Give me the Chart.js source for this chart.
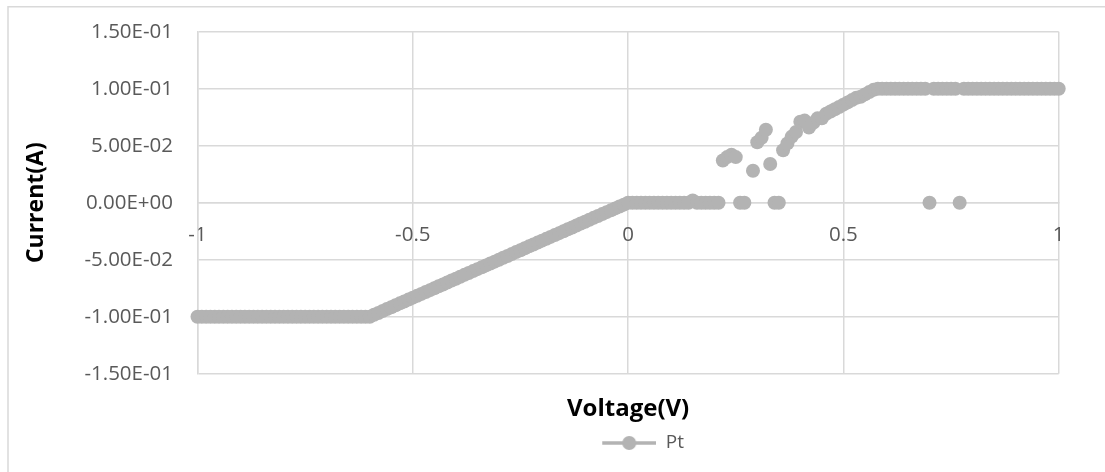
<!DOCTYPE html>
<html>
<head>
<meta charset="utf-8">
<title>Pt I-V sweep</title>
<script src="https://cdn.jsdelivr.net/npm/chart.js@4.4.1/dist/chart.umd.min.js"></script>
<style>
  html, body { margin: 0; padding: 0; background: #fff; }
  #ivChart { display: block; }
</style>
</head>
<body>
<canvas id="ivChart" width="1105" height="472"></canvas>
<script>
// Voltage sweep (V); null entries break the line between stray readings
const voltage = [
  -1.00, -0.99, -0.98, -0.97, -0.96, -0.95, -0.94, -0.93, -0.92, -0.91,
  -0.90, -0.89, -0.88, -0.87, -0.86, -0.85, -0.84, -0.83, -0.82, -0.81,
  -0.80, -0.79, -0.78, -0.77, -0.76, -0.75, -0.74, -0.73, -0.72, -0.71,
  -0.70, -0.69, -0.68, -0.67, -0.66, -0.65, -0.64, -0.63, -0.62, -0.61,
  -0.60, -0.59, -0.58, -0.57, -0.56, -0.55, -0.54, -0.53, -0.52, -0.51,
  -0.50, -0.49, -0.48, -0.47, -0.46, -0.45, -0.44, -0.43, -0.42, -0.41,
  -0.40, -0.39, -0.38, -0.37, -0.36, -0.35, -0.34, -0.33, -0.32, -0.31,
  -0.30, -0.29, -0.28, -0.27, -0.26, -0.25, -0.24, -0.23, -0.22, -0.21,
  -0.20, -0.19, -0.18, -0.17, -0.16, -0.15, -0.14, -0.13, -0.12, -0.11,
  -0.10, -0.09, -0.08, -0.07, -0.06, -0.05, -0.04, -0.03, -0.02, -0.01,
  0.00, 0.01, 0.02, 0.03, 0.04, 0.05, 0.06, 0.07, 0.08, 0.09,
  0.10, 0.11, 0.12, 0.13, 0.14, 0.15, 0.16, 0.17, 0.18, 0.19,
  0.20, 0.21,
  null, 0.22, 0.23, 0.24, 0.25, null, 0.26, 0.27, null, 0.29, null,
  0.30, 0.31, 0.32, null, 0.33, null, 0.34, 0.35, null,
  0.36, 0.37, 0.38, 0.39, 0.40, 0.41, 0.42, 0.43, 0.44, 0.45,
  0.46, 0.47, 0.48, 0.49, 0.50, 0.51, 0.52, 0.53, 0.54, 0.55,
  0.56, 0.57, 0.58, 0.59, 0.60, 0.61, 0.62, 0.63, 0.64, 0.65,
  0.66, 0.67, 0.68, 0.69,
  null, 0.70, null,
  0.71, 0.72, 0.73, 0.74, 0.75, 0.76,
  null, 0.77, null,
  0.78, 0.79, 0.80, 0.81, 0.82, 0.83, 0.84, 0.85, 0.86, 0.87,
  0.88, 0.89, 0.90, 0.91, 0.92, 0.93, 0.94, 0.95, 0.96, 0.97,
  0.98, 0.99, 1.00
];

// Measured current (A), same order as voltage
const current = [
  -0.1, -0.1, -0.1, -0.1, -0.1, -0.1, -0.1, -0.1, -0.1, -0.1,
  -0.1, -0.1, -0.1, -0.1, -0.1, -0.1, -0.1, -0.1, -0.1, -0.1,
  -0.1, -0.1, -0.1, -0.1, -0.1, -0.1, -0.1, -0.1, -0.1, -0.1,
  -0.1, -0.1, -0.1, -0.1, -0.1, -0.1, -0.1, -0.1, -0.1, -0.1,
  -0.1, -0.0983, -0.0967, -0.095, -0.0933, -0.0917, -0.09, -0.0883, -0.0867, -0.085,
  -0.0833, -0.0817, -0.08, -0.0783, -0.0767, -0.075, -0.0733, -0.0717, -0.07, -0.0683,
  -0.0667, -0.065, -0.0633, -0.0617, -0.06, -0.0583, -0.0567, -0.055, -0.0533, -0.0517,
  -0.05, -0.0483, -0.0467, -0.045, -0.0433, -0.0417, -0.04, -0.0383, -0.0367, -0.035,
  -0.0333, -0.0317, -0.03, -0.0283, -0.0267, -0.025, -0.0233, -0.0217, -0.02, -0.0183,
  -0.0167, -0.015, -0.0133, -0.0117, -0.01, -0.0083, -0.0067, -0.005, -0.0033, -0.0017,
  0, 0, 0, 0, 0, 0, 0, 0, 0, 0,
  0, 0, 0, 0, 0, 0.002, 0, 0, 0, 0,
  0, 0,
  null, 0.037, 0.040, 0.042, 0.040, null, 0, 0, null, 0.028, null,
  0.053, 0.057, 0.064, null, 0.034, null, 0, 0, null,
  0.046, 0.052, 0.058, 0.062, 0.071, 0.072, 0.066, 0.070, 0.074, 0.074,
  0.078, 0.080, 0.082, 0.084, 0.086, 0.088, 0.090, 0.092, 0.093, 0.095,
  0.097, 0.099, 0.100, 0.1, 0.1, 0.1, 0.1, 0.1, 0.1, 0.1,
  0.1, 0.1, 0.1, 0.1,
  null, 0, null,
  0.1, 0.1, 0.1, 0.1, 0.1, 0.1,
  null, 0, null,
  0.1, 0.1, 0.1, 0.1, 0.1, 0.1, 0.1, 0.1, 0.1, 0.1,
  0.1, 0.1, 0.1, 0.1, 0.1, 0.1, 0.1, 0.1, 0.1, 0.1,
  0.1, 0.1, 0.1
];

const seriesName = 'Pt';
const voltageTicks = [-1, -0.5, 0, 0.5, 1];
const currentTicks = [-0.15, -0.1, -0.05, 0, 0.05, 0.1, 0.15];

const GREY = '#b3b3b3';
const GRID = '#d9d9d9';
const LABEL = '#595959';
const FONT = "'Open Sans', 'Liberation Sans', sans-serif";

// Excel-style scientific label, e.g. 1.50E-01
function sciLabel(v) {
    if (Math.abs(v) < 1e-12) return '0.00E+00';
    const parts = v.toExponential(2).split('e');
    const exp = parseInt(parts[1], 10);
    return parts[0] + 'E' + (exp < 0 ? '-' : '+') + String(Math.abs(exp)).padStart(2, '0');
}

// Legend symbol: short line with a marker in the middle
function makeLegendSymbol() {
    const c = document.createElement('canvas');
    c.width = 84;
    c.height = 20;
    const g = c.getContext('2d');
    g.strokeStyle = GREY;
    g.lineWidth = 3.5;
    g.beginPath();
    g.moveTo(30, 10);
    g.lineTo(84, 10);
    g.stroke();
    g.fillStyle = GREY;
    g.beginPath();
    g.arc(57, 10, 7, 0, Math.PI * 2);
    g.fill();
    return c;
}

// White background and the thin outer frame
const chartFrame = {
    id: 'chartFrame',
    beforeDraw(chart) {
        const c = chart.ctx;
        c.save();
        c.fillStyle = '#fff';
        c.fillRect(0, 0, chart.width, chart.height);
        c.strokeStyle = GRID;
        c.lineWidth = 1.5;
        c.strokeRect(8, 6.75, chart.width + 20, chart.height + 20);
        c.restore();
    }
};

const points = voltage.map((v, i) => ({ x: v, y: current[i] }));

const ctx = document.getElementById('ivChart').getContext('2d');
const ivChart = new Chart(ctx, {
    type: 'scatter',
    data: {
        datasets: [{
            label: seriesName,
            data: points,
            showLine: true,
            spanGaps: false,
            borderColor: GREY,
            backgroundColor: GREY,
            borderWidth: 3.5,
            pointRadius: 7,
            pointBorderWidth: 0,
            pointHoverRadius: 7,
            clip: false
        }]
    },
    options: {
        responsive: false,
        animation: false,
        events: [],
        layout: { padding: { left: 0, top: 31.7, right: 46.3, bottom: 9.5 } },
        scales: {
            x: {
                type: 'linear',
                position: { y: 0 },
                min: -1,
                max: 1,
                afterBuildTicks: (scale) => { scale.ticks = voltageTicks.map(v => ({ value: v })); },
                grid: { color: GRID, lineWidth: 1.5, drawTicks: false },
                border: { color: GRID, width: 1.5 },
                ticks: {
                    padding: 20,
                    color: LABEL,
                    font: { family: FONT, size: 20.5 },
                    maxRotation: 0,
                    callback: (v) => String(v)
                }
            },
            y: {
                type: 'linear',
                position: 'left',
                min: -0.15,
                max: 0.15,
                afterBuildTicks: (scale) => { scale.ticks = currentTicks.map(v => ({ value: v })); },
                afterFit: (scale) => { scale.width = 197.5; },
                // invisible tick marks keep the labels clear of the axis
                grid: { color: GRID, lineWidth: 1.5, drawTicks: true, tickLength: 24.5, tickColor: 'rgba(0,0,0,0)' },
                border: { color: GRID, width: 1.5 },
                ticks: {
                    padding: 0,
                    color: LABEL,
                    font: { family: FONT, size: 20.5 },
                    callback: (v) => sciLabel(v)
                },
                title: {
                    display: true,
                    text: 'Current(A)',
                    color: '#000',
                    font: { family: FONT, size: 23, weight: 'bold' },
                    padding: { top: 22.6, bottom: 0 }
                }
            }
        },
        plugins: {
            title: {
                display: true,
                text: 'Voltage(V)',
                position: 'bottom',
                fullSize: false,
                weight: 500,
                color: '#000',
                font: { family: FONT, size: 24, weight: 'bold' },
                padding: { top: 21, bottom: 0 }
            },
            legend: {
                position: 'bottom',
                fullSize: false,
                labels: {
                    usePointStyle: true,
                    pointStyle: makeLegendSymbol(),
                    pointStyleWidth: 84,
                    color: LABEL,
                    font: { family: FONT, size: 19 },
                    padding: 10
                }
            },
            tooltip: { enabled: false }
        }
    },
    plugins: [chartFrame]
});
</script>
</body>
</html>
